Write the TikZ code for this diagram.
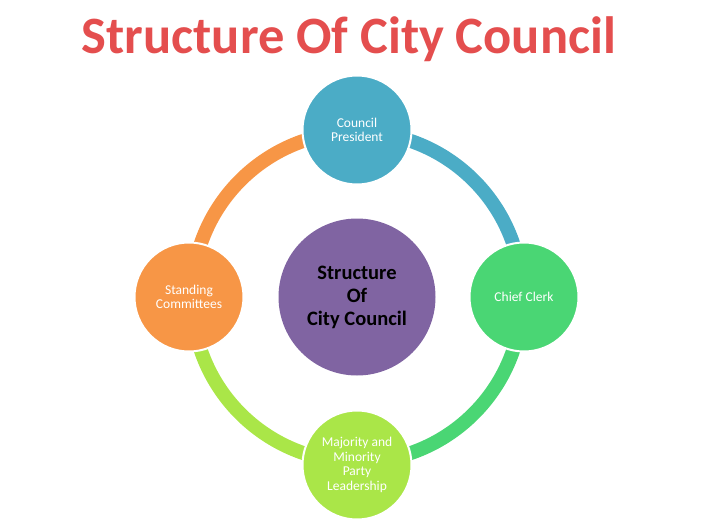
\documentclass[tikz,border=0pt]{standalone}
\usepackage{fontspec}
\setmainfont{Carlito}
\usepackage{tikz}
\usetikzlibrary{positioning,calc}

\definecolor{cblue}{RGB}{75,172,198}
\definecolor{cgreen}{RGB}{74,214,116}
\definecolor{clime}{RGB}{170,230,72}
\definecolor{corange}{RGB}{247,150,70}
\definecolor{cpurple}{RGB}{128,100,162}
\definecolor{ctitle}{RGB}{228,78,78}

\tikzset{
    role/.style={circle, draw=white, line width=2pt, minimum size=109pt, inner sep=0pt,
        align=center, text=white, font=\fontsize{13.5}{14.7}\selectfont},
    hub/.style={circle, fill=cpurple, minimum size=157pt, inner sep=0pt,
        align=center, font=\bfseries\fontsize{20.5}{23}\selectfont},
    ring/.style={line width=14pt}
}

\begin{document}
\begin{tikzpicture}[x=1pt,y=1pt]
    \useasboundingbox (0,0) rectangle (718,-532);
    % Title
    \node [anchor=base, text=ctitle, font=\bfseries\fontsize{52.5}{60}\selectfont] (title) at (349,-54) {Structure Of City Council};
    % Ring
    \coordinate (ctr) at (357,-297);
    \draw [ring, cblue] (ctr) ++(90:165) arc [start angle=90, end angle=0, radius=165];
    \draw [ring, cgreen] (ctr) ++(0:165) arc [start angle=0, end angle=-90, radius=165];
    \draw [ring, clime] (ctr) ++(-90:165) arc [start angle=-90, end angle=-180, radius=165];
    \draw [ring, corange] (ctr) ++(180:165) arc [start angle=180, end angle=90, radius=165];
    % Centre
    \node [hub] (hub) at (ctr) {Structure\\Of\\City Council};
    % Members
    \node [role, fill=cblue] (pres) at (357,-130) {Council\\President};
    \node [role, fill=cgreen] (clerk) at (524,-297) {Chief Clerk};
    \node [role, fill=clime] (party) at (357,-465) {Majority and\\Minority\\Party\\Leadership};
    \node [role, fill=corange] (comm) at (189,-297) {Standing\\Committees};
\end{tikzpicture}
\end{document}
